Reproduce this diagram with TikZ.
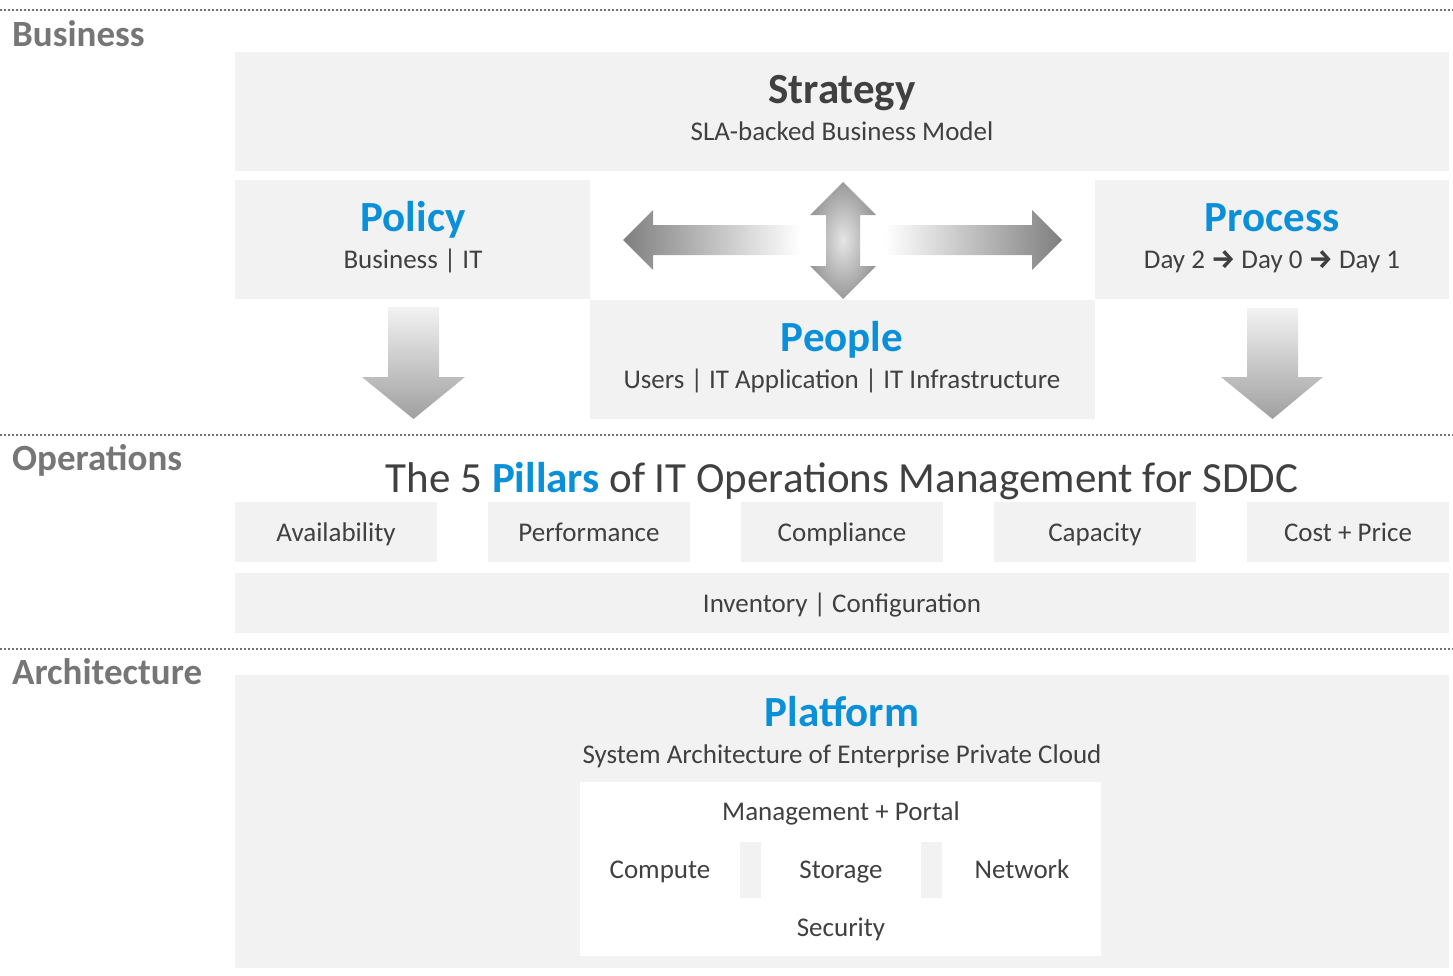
\documentclass[tikz,border=0pt]{standalone}
\usepackage{fontspec}
\setmainfont{Carlito}
\newfontfamily\arrfont{Fira Sans}
\definecolor{boxg}{HTML}{F2F2F2}
\definecolor{txt}{HTML}{404040}
\definecolor{side}{HTML}{767676}
\definecolor{blu}{HTML}{0A90D8}
\definecolor{arr}{HTML}{7F7F7F}
\begin{document}
\begin{tikzpicture}[x=1pt,y=-1pt,
 box/.style={fill=boxg, draw=none, inner sep=0pt, anchor=north west},
 wbox/.style={fill=white, draw=none, inner sep=0pt, anchor=north west},
 body/.style={font=\fontsize{27}{31}\selectfont, text=txt, inner sep=0pt, anchor=base},
 head/.style={font=\fontsize{43}{47}\selectfont\bfseries, text=blu, inner sep=0pt, anchor=base},
 sidelab/.style={font=\fontsize{37}{41}\selectfont\bfseries, text=side, anchor=base west, inner sep=0pt},
 sepline/.style={draw=arr!90!black, line width=2pt, dash pattern=on 2pt off 2pt}]
\newcommand{\dayarr}{{\arrfont\bfseries\fontsize{27}{31}\selectfont →}}
\useasboundingbox (0,0) rectangle (1453,975);

% separators
\coordinate (s1l) at (0,10);   \coordinate (s1r) at (1453,10);
\coordinate (s2l) at (0,435);  \coordinate (s2r) at (1453,435);
\coordinate (s3l) at (0,649);  \coordinate (s3r) at (1453,649);
\draw[sepline] (s1l) -- (s1r);
\draw[sepline] (s2l) -- (s2r);
\draw[sepline] (s3l) -- (s3r);

% side labels
\node[sidelab] (lbus) at (12,46) {Business};
\node[sidelab] (lops) at (12,470) {Operations};
\node[sidelab] (larc) at (12,684) {Architecture};

% business boxes
\node[box, minimum width=1214pt, minimum height=119pt] (strat) at (235,52) {};
\node[box, minimum width=355pt, minimum height=119pt] (policy) at (235,180) {};
\node[box, minimum width=354pt, minimum height=119pt] (process) at (1095,180) {};
\node[box, minimum width=505pt, minimum height=119pt] (people) at (590,300) {};

\node[body, font=\fontsize{43}{47}\selectfont\bfseries] (strt) at (842,103) {Strategy};
\node[body] (strs) at (842,140) {SLA-backed Business Model};
\node[head] (polt) at (413,231) {Policy};
\node[body] (pols) at (413,268) {Business | IT};
\node[head] (prot) at (1272,231) {Process};
\node[body] (pros) at (1272,268) {Day 2 \dayarr{} Day 0 \dayarr{} Day 1};
\node[head] (peot) at (842,351) {People};
\node[body] (peos) at (842,388) {Users | IT Application | IT Infrastructure};

% arrows
\shade[left color=arr, right color=white]
  (623,240) -- (653,210) -- (653,225) -- (800,225) -- (800,255) -- (653,255) -- (653,270) -- cycle;
\shade[left color=white, right color=arr]
  (885,225) -- (1032,225) -- (1032,210) -- (1062,240) -- (1032,270) -- (1032,255) -- (885,255) -- cycle;
\shade[inner color=gray!20, outer color=gray!80]
  (843,182) -- (876,215) -- (860,215) -- (860,266) -- (876,266) -- (843,299) -- (810,266) -- (826,266) -- (826,215) -- (810,215) -- cycle;
\shade[top color=gray!10, bottom color=gray!75]
  (388,307) -- (439,307) -- (439,377) -- (465,377) -- (413.5,419) -- (362,377) -- (388,377) -- cycle;
\shade[top color=gray!10, bottom color=gray!75]
  (1247,308) -- (1298,308) -- (1298,377) -- (1323,377) -- (1272.5,419) -- (1221,377) -- (1247,377) -- cycle;

% operations
\node[body, font=\fontsize{43}{47}\selectfont] (title) at (842,492) {The 5 \textcolor{blu}{\bfseries Pillars} of IT Operations Management for SDDC};
\node[box, minimum width=202pt, minimum height=60pt] (p1) at (235,502) {};
\node[box, minimum width=202pt, minimum height=60pt] (p2) at (488,502) {};
\node[box, minimum width=202pt, minimum height=60pt] (p3) at (741,502) {};
\node[box, minimum width=202pt, minimum height=60pt] (p4) at (994,502) {};
\node[box, minimum width=202pt, minimum height=60pt] (p5) at (1247,502) {};
\node[body] (p1t) at (336,541) {Availability};
\node[body] (p2t) at (589,541) {Performance};
\node[body] (p3t) at (842,541) {Compliance};
\node[body] (p4t) at (1095,541) {Capacity};
\node[body] (p5t) at (1348,541) {Cost + Price};
\node[box, minimum width=1214pt, minimum height=60pt] (inv) at (235,573) {};
\node[body] (invt) at (842,612) {Inventory | Configuration};

% architecture
\node[box, minimum width=1214pt, minimum height=293pt] (plat) at (235,675) {};
\node[head] (platt) at (842,726) {Platform};
\node[body] (plats) at (842,763) {System Architecture of Enterprise Private Cloud};
\node[wbox, minimum width=521pt, minimum height=174pt] (inner) at (580,782) {};
\node[box, minimum width=21pt, minimum height=56pt] (g1) at (740,842) {};
\node[box, minimum width=21pt, minimum height=56pt] (g2) at (921,842) {};
\node[body] (mgmt) at (841,820) {Management + Portal};
\node[body] (comp) at (660,878) {Compute};
\node[body] (stor) at (841,878) {Storage};
\node[body] (netw) at (1022,878) {Network};
\node[body] (secu) at (841,936) {Security};
\end{tikzpicture}
\end{document}
